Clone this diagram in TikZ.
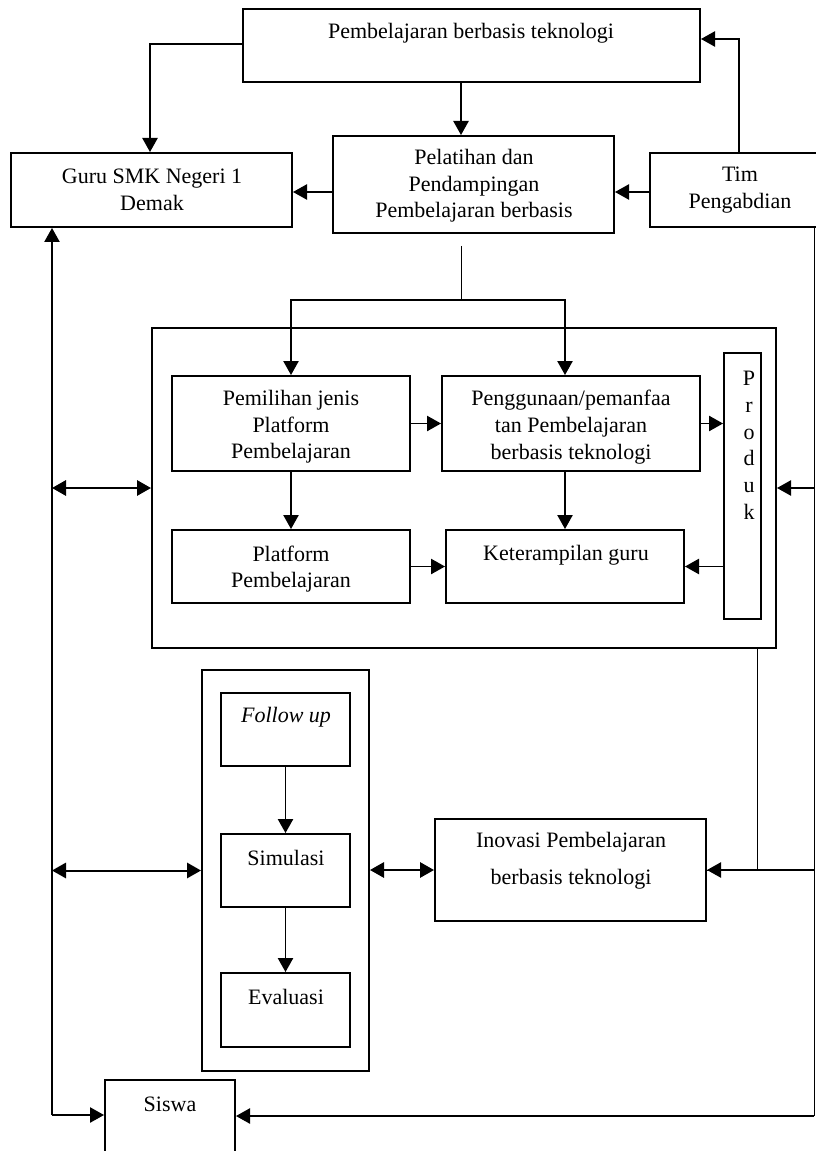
\documentclass[tikz,border=0pt]{standalone}
\usepackage{fontspec}
\setmainfont{Liberation Serif}
\usetikzlibrary{arrows.meta,fit}
\begin{document}
\begin{tikzpicture}[x=0.75pt,y=-0.75pt]
  \tikzstyle{kotak}=[draw, line width=1.5pt, inner sep=0pt]
  \tikzstyle{teks}=[align=center, inner sep=0pt, font=\fontsize{16.5}{20}\selectfont]
  \tikzstyle{panah}=[line width=1pt, -{Triangle[length=10.5pt,width=11.5pt]}]
  \tikzstyle{duapanah}=[line width=1.5pt, {Triangle[length=10.5pt,width=11.5pt]}-{Triangle[length=10.5pt,width=11.5pt]}]
  \useasboundingbox (0,0) rectangle (816,1151);
  % kotak-kotak
  \node[kotak, fit={(243,9) (700,82)}] (pbt) {};
  \node[kotak, fit={(11,153) (292,227)}] (guru) {};
  \node[kotak, fit={(333,136) (614,233)}] (pelatihan) {};
  \node[kotak, fit={(650,153) (830,227)}] (tim) {};
  \node[kotak, fit={(152,328) (776,648)}] (inti) {};
  \node[kotak, fit={(172,376) (410,471)}] (pemilihan) {};
  \node[kotak, fit={(442,376) (700,471)}] (penggunaan) {};
  \node[kotak, fit={(724,353) (761,619)}] (produk) {};
  \node[kotak, fit={(172,530) (410,603)}] (platform) {};
  \node[kotak, fit={(446,530) (684,603)}] (terampil) {};
  \node[kotak, fit={(202,670) (369,1071)}] (tindak) {};
  \node[kotak, fit={(221,693) (350,766)}] (followup) {};
  \node[kotak, fit={(221,834) (350,907)}] (simulasi) {};
  \node[kotak, fit={(221,973) (350,1047)}] (evaluasi) {};
  \node[kotak, fit={(435,819) (706,921)}] (inovasi) {};
  \node[kotak, fit={(105,1080) (235,1170)}] (siswa) {};
  % teks
  \node[teks] (tpbt) at (471,33) {Pembelajaran berbasis teknologi};
  \node[teks] (tguru) at (152,190) {Guru SMK Negeri 1\\Demak};
  \node[teks] (tpelatihan) at (474,186) {Pelatihan dan\\Pendampingan\\Pembelajaran berbasis};
  \node[teks] (ttim) at (740,190) {Tim\\Pengabdian};
  \node[teks] (tpemilihan) at (291,427) {Pemilihan jenis\\Platform\\Pembelajaran};
  \node[teks] (tpenggunaan) at (571,427) {Penggunaan/pemanfaa\\tan Pembelajaran\\berbasis teknologi};
  \node[teks, anchor=north] (tproduk) at (749,371) {P\\r\\o\\d\\u\\k};
  \node[teks] (tplatform) at (291,569) {Platform\\Pembelajaran};
  \node[teks] (tterampil) at (566,555) {Keterampilan guru};
  \node[teks, font=\fontsize{16.5}{20}\selectfont\itshape] (tfollow) at (286,717) {Follow up};
  \node[teks] (tsimulasi) at (286,858) {Simulasi};
  \node[teks] (tevaluasi) at (286,997) {Evaluasi};
  \node[teks, font=\fontsize{16.5}{27.75}\selectfont] (tinovasi) at (571,861) {Inovasi Pembelajaran\\berbasis teknologi};
  \node[teks] (tsiswa) at (170,1104) {Siswa};
  \coordinate (kiri) at (52,1115);
  \coordinate (kanan) at (814,1116);
  \coordinate (cabang) at (461,300);
  % panah atas
  \draw[panah] (pbt.west |- 0,44) -| (150,0 |- guru.north);
  \draw[panah] (pbt.south -| cabang) -- (pelatihan.north -| cabang);
  \draw[panah] (739,0 |- tim.north) |- (pbt.east |- 0,39);
  \draw[panah] (pelatihan.west |- 0,192) -- (guru.east |- 0,192);
  \draw[panah] (tim.west |- 0,192) -- (pelatihan.east |- 0,192);
  \draw ([yshift=-9pt]pelatihan.south -| cabang) -- (cabang);
  \draw[panah] (cabang) -| (pemilihan.north);
  \draw[panah] (cabang) -| (penggunaan.north -| terampil.north);
  % di dalam kotak inti
  \draw[panah] (pemilihan) -- (penggunaan);
  \draw[panah] (penggunaan.east) -- (penggunaan.east -| produk.west);
  \draw[panah] (pemilihan) -- (platform);
  \draw[panah] (penggunaan.south -| terampil.north) -- (terampil.north);
  \draw[panah] (platform) -- (platform -| terampil.west);
  \draw[panah] (produk.west |- platform) -- (terampil.east |- platform);
  % garis kiri
  \draw[panah] (kiri) -- (kiri |- guru.south);
  \draw[duapanah] (kiri |- inti.west) -- (inti.west);
  \draw[duapanah] (kiri |- tindak.west) -- (tindak.west);
  \draw[panah] (kiri) -- (kiri -| siswa.west);
  % garis kanan
  \draw (tim.south -| kanan) -- (kanan);
  \draw[panah] (kanan |- inti.east) -- (inti.east);
  \draw[panah] (kanan |- inovasi.east) -- (inovasi.east);
  \draw (inti.south -| 757,0) |- (inovasi.east);
  \draw[panah] (kanan) -- (kanan -| siswa.east);
  % tindak lanjut
  \draw[panah] (followup) -- (simulasi);
  \draw[panah] (simulasi) -- (evaluasi);
  \draw[duapanah] (tindak.east |- inovasi.west) -- (inovasi.west);
\end{tikzpicture}
\end{document}
